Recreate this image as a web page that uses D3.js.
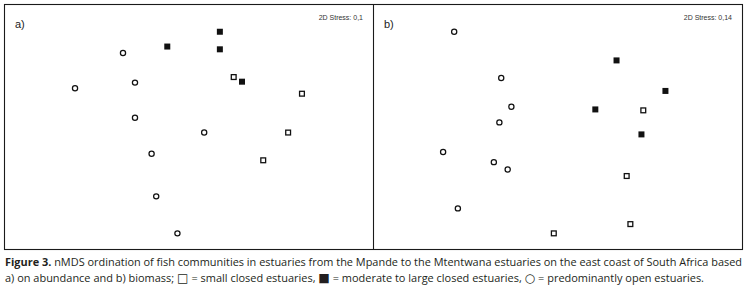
<!DOCTYPE html>
<html>
<head>
<meta charset="utf-8">
<script src="https://cdn.jsdelivr.net/npm/d3@7"></script>
<style>
  html, body { margin: 0; padding: 0; background: #fff; }
  svg { display: block; }
</style>
</head>
<body>
<svg id="chart" width="750" height="292"></svg>
<script>
// ---- Data (nMDS coordinates) ----
// group: "small" = small closed (open square), "large" = moderate to large closed (filled square), "open" = predominantly open (circle)
const panelAGroups = ["large","large","large","large","small","small","small","small","open","open","open","open","open","open","open","open"];
const panelAX = [0.34,-0.23,0.34,0.58,0.49,1.23,1.08,0.81,-0.71,-0.58,-1.23,-0.58,0.17,-0.40,-0.35,-0.12];
const panelAY = [1.03,0.87,0.84,0.49,0.54,0.36,-0.06,-0.36,0.80,0.48,0.42,0.10,-0.06,-0.29,-0.75,-1.15];

const panelBGroups = ["open","large","open","large","open","large","small","open","large","open","open","open","small","open","small","small"];
const panelBX = [-1.12,0.64,-0.61,1.17,-0.50,0.41,0.93,-0.63,0.91,-1.24,-0.69,-0.54,0.75,-1.08,0.79,-0.04];
const panelBY = [1.03,0.72,0.53,0.39,0.22,0.19,0.18,0.05,-0.08,-0.27,-0.38,-0.46,-0.53,-0.88,-1.05,-1.15];

const panelLabels = ["a)", "b)"];
const stressLabels = ["2D Stress: 0,1", "2D Stress: 0,14"];
const captionBold = "Figure 3.";
const captionLine1 = " nMDS ordination of fish communities in estuaries from the Mpande to the Mtentwana estuaries on the east coast of South Africa based";
// line 2 pieces: [text, isSymbol]
const captionLine2 = [
  ["a) on abundance and b) biomass; ", false],
  ["\u25A1", true],
  [" = small closed estuaries, ", false],
  ["\u25A0", true],
  [" = moderate to large closed estuaries, ", false],
  ["\u25CB", true],
  [" = predominantly open estuaries.", false]
];

// ---- Layout ----
const svg = d3.select("#chart");
const frame = {left: 4.5, top: 4.5, right: 742.5, bottom: 249.5, mid: 373.5};

svg.append("rect")
  .attr("x", frame.left).attr("y", frame.top)
  .attr("width", frame.right - frame.left).attr("height", frame.bottom - frame.top)
  .attr("fill", "none").attr("stroke", "#1a1a1a").attr("stroke-width", 1.1);
svg.append("line")
  .attr("x1", frame.mid).attr("x2", frame.mid)
  .attr("y1", frame.top).attr("y2", frame.bottom)
  .attr("stroke", "#1a1a1a").attr("stroke-width", 1.1);

const panels = [
  {x0: 4, x1: 373, xs: panelAX, ys: panelAY, gs: panelAGroups},
  {x0: 373, x1: 742, xs: panelBX, ys: panelBY, gs: panelBGroups}
];

panels.forEach((p, i) => {
  const x = d3.scaleLinear().domain([-2, 2]).range([p.x0, p.x1]);
  const y = d3.scaleLinear().domain([-1.33, 1.33]).range([250, 4]);
  const g = svg.append("g");
  const pts = p.xs.map((v, k) => ({x: v, y: p.ys[k], g: p.gs[k]}));

  g.selectAll("rect.filled").data(pts.filter(d => d.g === "large")).join("rect")
    .attr("x", d => x(d.x) - 3).attr("y", d => y(d.y) - 3)
    .attr("width", 6).attr("height", 6).attr("fill", "#111");

  g.selectAll("rect.hollow").data(pts.filter(d => d.g === "small")).join("rect")
    .attr("x", d => x(d.x) - 2.4).attr("y", d => y(d.y) - 2.4)
    .attr("width", 4.8).attr("height", 4.8)
    .attr("fill", "#fff").attr("stroke", "#111").attr("stroke-width", 1.3);

  g.selectAll("circle").data(pts.filter(d => d.g === "open")).join("circle")
    .attr("cx", d => x(d.x)).attr("cy", d => y(d.y)).attr("r", 2.6)
    .attr("fill", "#fff").attr("stroke", "#111").attr("stroke-width", 1.25);

  svg.append("text")
    .attr("x", p.x0 + 11).attr("y", 28)
    .attr("font-family", "Liberation Sans, Arial, sans-serif")
    .attr("font-size", 11).attr("fill", "#222")
    .text(panelLabels[i]);

  svg.append("text")
    .attr("x", p.x1 - 10).attr("y", 20)
    .attr("text-anchor", "end")
    .attr("font-family", "Liberation Sans, Arial, sans-serif")
    .attr("font-size", 7).attr("fill", "#333")
    .text(stressLabels[i]);
});

// ---- Caption ----
const cap1 = svg.append("text")
  .attr("x", 5).attr("y", 266)
  .attr("font-family", "Open Sans, Noto Sans, sans-serif")
  .attr("font-size", 10.8).attr("fill", "#231f20")
  .attr("textLength", 737).attr("lengthAdjust", "spacingAndGlyphs");
cap1.append("tspan").attr("font-weight", "bold").text(captionBold);
cap1.append("tspan").text(captionLine1);

const cap2 = svg.append("text")
  .attr("x", 5).attr("y", 282)
  .attr("font-family", "Open Sans, Noto Sans, sans-serif")
  .attr("font-size", 10.8).attr("fill", "#231f20")
  .attr("textLength", 699).attr("lengthAdjust", "spacingAndGlyphs");
captionLine2.forEach(([t, sym]) => {
  const ts = cap2.append("tspan").text(t);
  if (sym) ts.attr("font-family", "DejaVu Sans").attr("font-size", 12);
});
</script>
</body>
</html>
